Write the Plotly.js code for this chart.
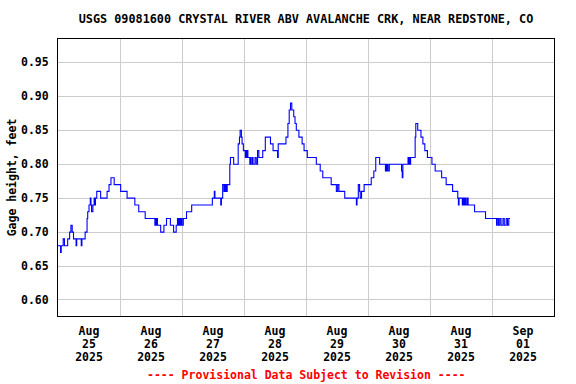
<!DOCTYPE html>
<html>
<head>
<meta charset="utf-8">
<script src="https://cdn.plot.ly/plotly-3.0.1.min.js"></script>
<style>html,body{margin:0;padding:0;background:#fff;}#chart{width:576px;height:384px;}</style>
</head>
<body>
<div id="chart"></div>
<script>
// Gage height readings: hours since 2025-08-25 00:00 and value (ft), step changes
const hoursSinceStart = [
  0.00,1.00,1.25,2.00,2.50,3.75,4.50,5.00,5.50,6.00,7.00,7.25,9.00,9.25,10.50,11.25,11.50,12.00,12.50,12.75,
  13.00,13.50,14.00,14.25,14.50,15.00,16.50,19.00,19.75,20.50,21.75,24.25,26.75,29.75,31.25,33.75,
  37.50,37.75,38.00,38.25,38.50,39.75,41.00,42.00,43.50,44.75,45.75,46.25,46.50,46.75,47.00,47.25,47.50,47.75,48.00,48.50,
  49.75,51.75,59.75,60.50,60.75,63.00,63.25,63.75,64.25,64.50,64.75,65.00,65.25,65.50,66.50,66.75,68.00,
  69.75,70.25,70.50,71.00,71.25,71.75,72.50,72.75,73.00,73.25,73.50,74.25,74.50,74.75,75.25,75.50,76.25,76.75,
  77.25,77.75,79.25,80.25,82.25,83.25,85.00,85.25,88.25,89.00,89.50,90.00,90.50,91.25,91.75,92.25,93.25,94.50,95.25,
  96.50,100.00,101.50,102.50,105.75,107.75,108.25,108.75,111.00,115.50,115.75,116.25,116.75,117.00,117.50,118.50,
  121.25,122.25,123.00,124.50,126.75,127.00,127.25,127.50,127.75,128.25,133.00,133.25,133.50,135.50,135.75,136.00,136.25,136.50,
  138.25,138.50,139.25,140.50,141.25,142.00,143.00,144.75,146.00,148.50,150.25,152.75,154.75,155.00,155.25,156.50,156.75,
  157.00,157.25,157.50,157.75,158.00,158.50,158.75,161.25,165.50,169.75,170.00,170.50,171.00,171.50,172.25,172.75,173.50,174.00,174.50,175.00
];
const gageHeight = [
  0.68,0.67,0.68,0.69,0.68,0.69,0.70,0.71,0.70,0.69,0.68,0.69,0.68,0.69,0.70,0.72,0.73,0.74,0.75,0.74,
  0.73,0.74,0.75,0.74,0.75,0.76,0.75,0.76,0.77,0.78,0.77,0.76,0.75,0.74,0.73,0.72,
  0.71,0.72,0.71,0.72,0.71,0.70,0.71,0.72,0.71,0.70,0.71,0.72,0.71,0.72,0.71,0.72,0.71,0.72,0.71,0.72,
  0.73,0.74,0.75,0.76,0.75,0.74,0.75,0.77,0.76,0.77,0.76,0.77,0.76,0.77,0.80,0.81,0.80,
  0.83,0.84,0.85,0.84,0.83,0.82,0.81,0.82,0.81,0.82,0.81,0.80,0.81,0.80,0.81,0.80,0.81,0.80,
  0.82,0.81,0.82,0.84,0.83,0.82,0.81,0.83,0.84,0.86,0.88,0.89,0.88,0.87,0.86,0.85,0.84,0.83,0.82,
  0.81,0.80,0.79,0.78,0.77,0.76,0.77,0.76,0.75,0.74,0.75,0.77,0.76,0.75,0.76,0.77,
  0.78,0.79,0.81,0.80,0.79,0.80,0.79,0.80,0.79,0.80,0.79,0.78,0.80,0.81,0.80,0.81,0.80,0.81,
  0.84,0.86,0.85,0.84,0.83,0.82,0.81,0.80,0.79,0.78,0.77,0.76,0.75,0.74,0.75,0.74,0.75,
  0.74,0.75,0.74,0.75,0.74,0.75,0.74,0.73,0.72,0.71,0.72,0.71,0.72,0.71,0.72,0.71,0.72,0.71,0.72,0.72
];

const gridDates = ["2025-08-26","2025-08-27","2025-08-28","2025-08-29","2025-08-30","2025-08-31","2025-09-01"];
const labelDates = ["2025-08-25 12:00","2025-08-26 12:00","2025-08-27 12:00","2025-08-28 12:00",
                    "2025-08-29 12:00","2025-08-30 12:00","2025-08-31 12:00","2025-09-01 12:00"];
const monthLabels = ["Aug","Aug","Aug","Aug","Aug","Aug","Aug","Sep"];
const dayLabels = ["25","26","27","28","29","30","31","01"];
const yearLabels = ["2025","2025","2025","2025","2025","2025","2025","2025"];
const yTicks = [0.60,0.65,0.70,0.75,0.80,0.85,0.90,0.95];

const START = Date.UTC(2025,7,25);
function stamp(h){ return new Date(START + h*3600000).toISOString().slice(0,16).replace('T',' '); }
const xs = hoursSinceStart.map(stamp);

const FONT = "DejaVu Sans Mono";
const tf = {family:FONT, size:11.5, color:"#000", weight:"bold"};
const xr = ["2025-08-25 00:00","2025-09-02 00:00"];

function labelAxis(text, standoff){
  return {type:"date", overlaying:"x", anchor:"y", range:xr, tickmode:"array",
    tickvals:labelDates, ticktext:text, showgrid:false, zeroline:false, showline:false,
    ticks:"", tickfont:tf, ticklabelstandoff:standoff, fixedrange:true, tickangle:0};
}

const data = [
  {x:xs, y:gageHeight, type:"scatter", mode:"lines", line:{color:"#0000FF", width:1.1, shape:"hv"}, hoverinfo:"skip", showlegend:false},
  {x:[], y:[], xaxis:"x2", type:"scatter", showlegend:false},
  {x:[], y:[], xaxis:"x3", type:"scatter", showlegend:false},
  {x:[], y:[], xaxis:"x4", type:"scatter", showlegend:false}
];

const layout = {
  width:576, height:384,
  margin:{l:58, r:22, t:39, b:68},
  paper_bgcolor:"#fff", plot_bgcolor:"#fff",
  showlegend:false,
  title:{text:"USGS 09081600 CRYSTAL RIVER ABV AVALANCHE CRK, NEAR REDSTONE, CO",
    font:{family:FONT, size:11.8, color:"#000", weight:"bold"},
    x:0.5, xref:"paper", xanchor:"center", y:1-19/384, yref:"container", yanchor:"middle"},
  xaxis:{type:"date", range:xr, tickmode:"array", tickvals:gridDates, showticklabels:false,
    ticks:"", showgrid:true, gridcolor:"#CCCCCC", gridwidth:1, zeroline:false,
    showline:true, linecolor:"#000", linewidth:1, mirror:true, fixedrange:true},
  xaxis2:labelAxis(monthLabels, 6),
  xaxis3:labelAxis(dayLabels, 19),
  xaxis4:labelAxis(yearLabels, 32),
  yaxis:{range:[0.5764,0.9845], tickmode:"array", tickvals:yTicks, tickformat:".2f",
    ticks:"", showgrid:true, gridcolor:"#CCCCCC", gridwidth:1, zeroline:false,
    showline:true, linecolor:"#000", linewidth:1, mirror:true, tickfont:tf, ticklabelstandoff:6,
    title:{text:"Gage height, feet", font:tf, standoff:1}, fixedrange:true},
  annotations:[{text:"---- Provisional Data Subject to Revision ----", xref:"paper", yref:"paper",
    x:0.5, y:(316-375)/277, xanchor:"center", yanchor:"middle", showarrow:false,
    font:{family:FONT, size:11.5, color:"#FF0000", weight:"bold"}}]
};

Plotly.newPlot("chart", data, layout, {displayModeBar:false, staticPlot:true});
</script>
</body>
</html>
